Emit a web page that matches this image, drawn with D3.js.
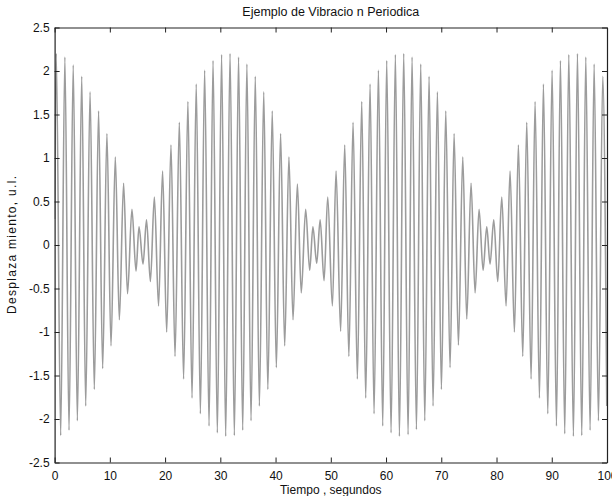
<!DOCTYPE html>
<html>
<head>
<meta charset="utf-8">
<script src="https://cdn.jsdelivr.net/npm/d3@7"></script>
<style>
  body { margin: 0; background: #fff; }
  svg { display: block; font-family: "Liberation Sans", Arial, sans-serif; }
</style>
</head>
<body>
<svg id="chart" width="612" height="496"></svg>
<script>
// extremos de la senal (tiempo en s, desplazamiento en u.l.)
var tiempo = [
    0.00, 0.30, 1.10, 1.86, 2.61, 3.37, 4.12, 4.91, 5.63, 6.42, 7.19, 7.96, 8.70, 9.47, 10.21, 10.99,
    11.72, 12.49, 13.20, 14.00, 14.74, 15.28, 16.01, 16.64, 17.34, 18.06, 18.82, 19.55, 20.29, 21.07,
    21.80, 22.58, 23.35, 24.13, 24.88, 25.64, 26.39, 27.16, 27.96, 28.68, 29.46, 30.23, 30.97, 31.76,
    32.54, 33.30, 34.05, 34.81, 35.56, 36.33, 37.07, 37.86, 38.60, 39.40, 40.14, 40.91, 41.65, 42.42,
    43.16, 43.95, 44.65, 45.45, 46.18, 46.76, 47.45, 48.07, 48.78, 49.44, 50.29, 50.95, 51.78, 52.52,
    53.27, 54.03, 54.81, 55.60, 56.32, 57.11, 57.83, 58.62, 59.40, 60.12, 60.91, 61.69, 62.42, 63.20,
    63.99, 64.71, 65.50, 66.28, 67.01, 67.79, 68.51, 69.30, 70.02, 70.81, 71.59, 72.32, 73.10, 73.89,
    74.61, 75.39, 76.12, 76.84, 77.57, 78.23, 78.83, 79.50, 80.22, 80.95, 81.73, 82.45, 83.24, 83.96,
    84.75, 85.47, 86.26, 86.98, 87.77, 88.49, 89.28, 90.06, 90.85, 91.57, 92.35, 93.08, 93.92, 94.65,
    95.43, 96.16, 96.94, 97.67, 98.45, 99.23, 99.96
]
var desplaz = [
    0.30, 2.20, -2.19, 2.16, -2.13, 2.07, -2.02, 1.94, -1.85, 1.76, -1.66, 1.54, -1.42, 1.28, -1.16, 1.01,
    -0.86, 0.71, -0.56, 0.41, -0.30, 0.21, -0.22, 0.29, -0.42, 0.55, -0.70, 0.85, -1.00, 1.15,
    -1.28, 1.41, -1.54, 1.65, -1.76, 1.85, -1.94, 2.01, -2.08, 2.12, -2.16, 2.19, -2.20, 2.20,
    -2.19, 2.16, -2.13, 2.08, -2.02, 1.94, -1.85, 1.76, -1.66, 1.54, -1.41, 1.28, -1.16, 1.01,
    -0.86, 0.70, -0.55, 0.41, -0.29, 0.21, -0.21, 0.29, -0.41, 0.55, -0.70, 0.85, -0.99, 1.15,
    -1.28, 1.41, -1.54, 1.65, -1.76, 1.85, -1.94, 2.01, -2.08, 2.12, -2.16, 2.19, -2.20, 2.20,
    -2.18, 2.16, -2.12, 2.08, -2.02, 1.94, -1.85, 1.76, -1.66, 1.54, -1.41, 1.28, -1.15, 1.01,
    -0.85, 0.71, -0.55, 0.41, -0.29, 0.21, -0.22, 0.29, -0.42, 0.55, -0.70, 0.85, -1.00, 1.15,
    -1.28, 1.41, -1.54, 1.65, -1.76, 1.85, -1.94, 2.01, -2.08, 2.12, -2.17, 2.19, -2.20, 2.20,
    -2.19, 2.16, -2.13, 2.08, -2.02, 1.94, -1.85
]
var xTicks = [0, 10, 20, 30, 40, 50, 60, 70, 80, 90, 100]
var yTicks = [-2.5, -2, -1.5, -1, -0.5, 0, 0.5, 1, 1.5, 2, 2.5]

var titulo = "Ejemplo de Vibracio n Periodica"
var etiquetaX = "Tiempo , segundos"
var etiquetaY = "Desplaza miento, u.l."

drawChart()

function drawChart()
{
    var svg = d3.select("#chart")
    var mLeft = 54.6, mRight = 607, mTop = 27.5, mBottom = 462.5

    var x = d3.scaleLinear().domain([0, 100]).range([mLeft, mRight])
    var y = d3.scaleLinear().domain([-2.5, 2.5]).range([mBottom, mTop])

    var datos = tiempo.map(function(t, i) { return [t, desplaz[i]] })

    svg.append("clipPath").attr("id", "area")
        .append("rect")
        .attr("x", mLeft).attr("y", mTop)
        .attr("width", mRight - mLeft).attr("height", mBottom - mTop)

    var linea = d3.line()
        .x(function(d) { return x(d[0]) })
        .y(function(d) { return y(d[1]) })
        .curve(d3.curveMonotoneX)

    svg.append("path")
        .datum(datos)
        .attr("clip-path", "url(#area)")
        .attr("d", linea)
        .attr("fill", "none")
        .attr("stroke", "#9c9c9c")
        .attr("stroke-width", 1.6)

    function fmt(d) { return String(d) }

    // ejes con marcas hacia dentro, estilo matlab
    svg.append("g")
        .attr("transform", "translate(0," + mBottom + ")")
        .call(d3.axisBottom(x).tickValues(xTicks).tickFormat(fmt).tickSizeInner(-5).tickSizeOuter(0).tickPadding(8.5))
    svg.append("g")
        .attr("transform", "translate(0," + mTop + ")")
        .call(d3.axisTop(x).tickValues(xTicks).tickFormat("").tickSizeInner(-5).tickSizeOuter(0))
    svg.append("g")
        .attr("transform", "translate(" + mLeft + ",0)")
        .call(d3.axisLeft(y).tickValues(yTicks).tickFormat(fmt).tickSizeInner(-5).tickSizeOuter(0).tickPadding(5))
    svg.append("g")
        .attr("transform", "translate(" + mRight + ",0)")
        .call(d3.axisRight(y).tickValues(yTicks).tickFormat("").tickSizeInner(-5).tickSizeOuter(0))

    svg.selectAll(".domain").attr("stroke", "#222").attr("stroke-width", 1.2)
    svg.selectAll(".tick line").attr("stroke", "#222")
    svg.selectAll(".tick text")
        .attr("font-family", "Liberation Sans, Arial, sans-serif")
        .attr("font-size", "12px")
        .attr("fill", "#111")

    svg.append("text")
        .attr("x", (mLeft + mRight) / 2)
        .attr("y", 16)
        .attr("text-anchor", "middle")
        .attr("font-size", "12.5px")
        .attr("fill", "#111")
        .text(titulo)

    svg.append("text")
        .attr("x", (mLeft + mRight) / 2)
        .attr("y", 494)
        .attr("text-anchor", "middle")
        .attr("font-size", "12px")
        .attr("fill", "#111")
        .text(etiquetaX)

    svg.append("text")
        .attr("transform", "translate(16," + ((mTop + mBottom) / 2) + ") rotate(-90)")
        .attr("text-anchor", "middle")
        .attr("font-size", "12px")
        .attr("textLength", 138)
        .attr("fill", "#111")
        .text(etiquetaY)
}
</script>
</body>
</html>
